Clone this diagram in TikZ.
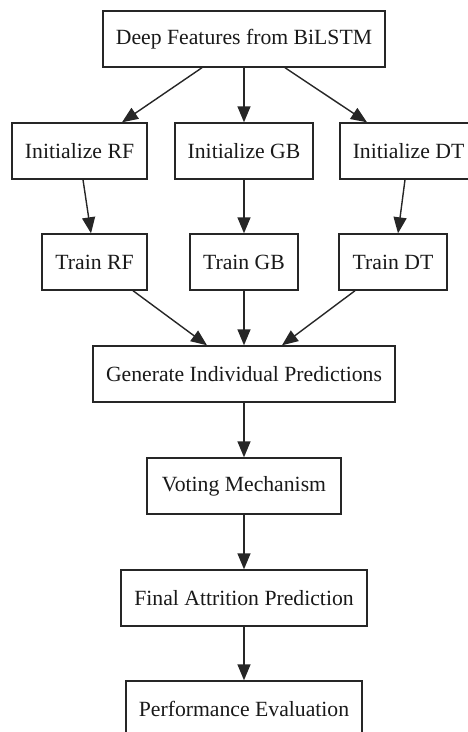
\documentclass[tikz,border=0pt]{standalone}
\usepackage{fontspec}
\setmainfont{Liberation Serif}
\usetikzlibrary{arrows.meta}
\begin{document}
\begin{tikzpicture}[x=1pt,y=-1pt,
  box/.style={draw=black!85,line width=1.4pt,rectangle,inner sep=0pt,minimum height=56pt,
    font=\fontsize{21.7}{26}\selectfont,text=black!90},
  arr/.style={draw=black!85,line width=1.4pt,-{Triangle[length=16pt,width=13pt]}}]
\useasboundingbox (0,0) rectangle (467,732);
\node[box,minimum width=282pt] (deep) at (244,39) {Deep Features from BiLSTM};
\node[box,minimum width=135pt] (irf) at (79.5,151) {Initialize RF};
\node[box,minimum width=138pt] (igb) at (244,151) {Initialize GB};
\node[box,minimum width=137pt] (idt) at (408.5,151) {Initialize DT};
\node[box,minimum width=105pt] (trf) at (94.5,262) {Train RF};
\node[box,minimum width=108pt] (tgb) at (244,262) {Train GB};
\node[box,minimum width=108pt] (tdt) at (393,262) {Train DT};
\node[box,minimum width=302pt] (gen) at (244,374) {Generate Individual Predictions};
\node[box,minimum width=194pt] (vote) at (244,486) {Voting Mechanism};
\node[box,minimum width=246pt] (fin) at (244,598) {Final Attrition Prediction};
\node[box,minimum width=236pt] (perf) at (244,709) {Performance Evaluation};
\draw[arr] (deep.south -| 202,0) -- (irf.north -| 122,0);
\draw[arr] (deep) -- (igb);
\draw[arr] (deep.south -| 285,0) -- (idt.north -| 367,0);
\draw[arr] (irf.south -| 83,0) -- (trf.north -| 91,0);
\draw[arr] (igb) -- (tgb);
\draw[arr] (idt.south -| 405,0) -- (tdt.north -| 398,0);
\draw[arr] (trf.south -| 133,0) -- (gen.north -| 207,0);
\draw[arr] (tgb) -- (gen);
\draw[arr] (tdt.south -| 355,0) -- (gen.north -| 282,0);
\draw[arr] (gen) -- (vote);
\draw[arr] (vote) -- (fin);
\draw[arr] (fin) -- (perf);
\end{tikzpicture}
\end{document}
